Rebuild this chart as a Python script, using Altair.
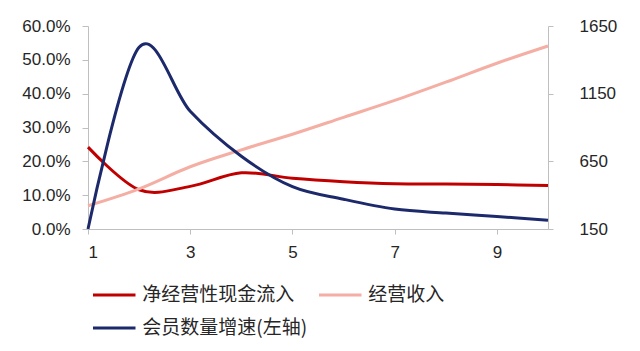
import altair as alt
import pandas as pd

# ---- data ----
x_vals = [1, 2, 3, 4, 5, 6, 7, 8, 9, 10]
member_growth = [0.0, 0.537, 0.348, 0.215, 0.125, 0.088, 0.059, 0.047, 0.037, 0.026]   # left axis
net_cash_inflow = [755, 440, 465, 565, 525, 500, 485, 482, 478, 472]                  # right axis
revenue = [322, 447, 610, 735, 850, 975, 1100, 1235, 1375, 1502]                     # right axis

series_names = ["净经营性现金流入", "经营收入", "会员数量增速(左轴)"]
series_colors = ["#c00000", "#f4aea4", "#1c296b"]

left_ticks = [0.0, 0.1, 0.2, 0.3, 0.4, 0.5, 0.6]
right_ticks = [150, 650, 1150, 1650]
x_ticks = [1, 3, 5, 7, 9]

left_df = pd.DataFrame({"x": x_vals, "v": member_growth, "series": series_names[2]})
right_df = pd.concat([
    pd.DataFrame({"x": x_vals, "v": net_cash_inflow, "series": series_names[0]}),
    pd.DataFrame({"x": x_vals, "v": revenue, "series": series_names[1]}),
])

AXIS_GRAY = "#bfbfbf"
TEXT = "#262626"
NUM_FONT = "Liberation Sans"

x_enc = alt.X("x:Q", scale=alt.Scale(domain=[1, 10], nice=False, zero=False),
              axis=alt.Axis(values=x_ticks, format="d", title=None, grid=False,
                            domainColor=AXIS_GRAY, tickColor=AXIS_GRAY, tickSize=5,
                            labelPadding=10, labelFont=NUM_FONT, labelFontSize=17,
                            labelColor=TEXT))

color_enc = alt.Color("series:N",
                      scale=alt.Scale(domain=series_names, range=series_colors),
                      sort=series_names,
                      legend=alt.Legend(orient="none", legendX=5, legendY=259,
                                        direction="horizontal",
                                        columns=2, title=None, padding=0,
                                        symbolType="M-2.5,0H2.5", symbolSize=289,
                                        symbolStrokeWidth=3, symbolOffset=11.25,
                                        labelOffset=18, labelFont="Noto Sans CJK SC",
                                        labelFontSize=19, labelColor=TEXT, labelLimit=0,
                                        columnPadding=5, rowPadding=13))

left = alt.Chart(left_df).mark_line(strokeWidth=3, interpolate="cardinal", tension=0).encode(
    x=x_enc,
    y=alt.Y("v:Q", scale=alt.Scale(domain=[0, 0.6], nice=False),
            axis=alt.Axis(values=left_ticks, format=".1%", title=None, grid=False,
                          orient="left", domainColor=AXIS_GRAY, tickColor=AXIS_GRAY,
                          tickSize=6, labelPadding=12, labelFont=NUM_FONT,
                          labelFontSize=17, labelColor=TEXT)),
    color=color_enc,
)

right = alt.Chart(right_df).mark_line(strokeWidth=3, interpolate="cardinal", tension=0).encode(
    x=x_enc,
    y=alt.Y("v:Q", scale=alt.Scale(domain=[150, 1650], nice=False, zero=False),
            axis=alt.Axis(values=right_ticks, format="d", title=None, grid=False,
                          orient="right", domainColor=AXIS_GRAY, tickColor=AXIS_GRAY,
                          tickSize=5, labelPadding=26, labelFont=NUM_FONT,
                          labelFontSize=17, labelColor=TEXT)),
    color=color_enc,
)

chart = alt.layer(right, left).resolve_scale(y="independent", color="shared").properties(
    width=460, height=203,
    autosize=alt.AutoSizeParams(type="none"),
    padding={"left": 88, "top": 26, "right": 92, "bottom": 122},
    background="white",
).configure_view(stroke=None)

chart.save("out.html", embed_options={"renderer": "svg", "actions": False})
